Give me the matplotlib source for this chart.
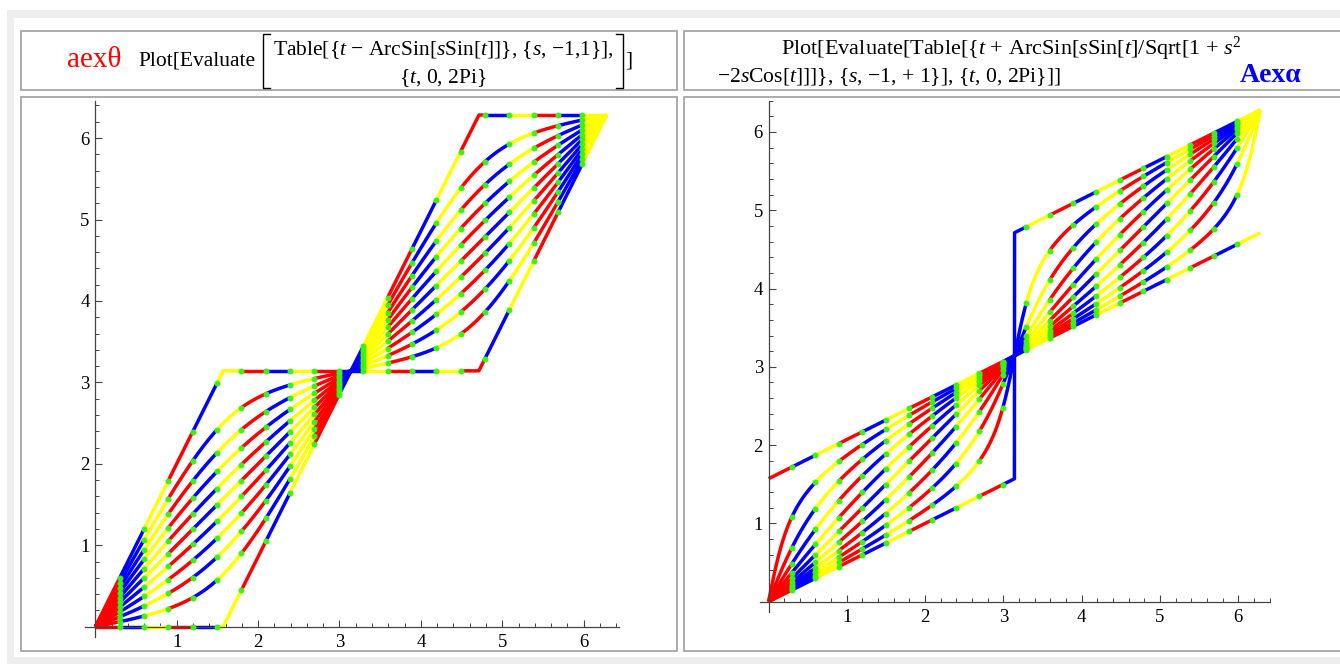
import numpy as np
import matplotlib
matplotlib.use('Agg')
import matplotlib.pyplot as plt
from matplotlib.patches import Rectangle
from matplotlib.lines import Line2D

plt.rcParams['font.family'] = ['Liberation Serif', 'DejaVu Serif']
plt.rcParams['mathtext.fontset'] = 'custom'
plt.rcParams['mathtext.rm'] = 'Liberation Serif'
plt.rcParams['mathtext.it'] = 'Liberation Serif:italic'
plt.rcParams['mathtext.bf'] = 'Liberation Serif:bold'

# ---------------- data (as stated in the chart's own Plot commands) ----------------
s_values = [-1.0, -0.8, -0.6, -0.4, -0.2, 0.0, 0.2, 0.4, 0.6, 0.8, 1.0]
t_range = [0.0, 2 * np.pi]
mesh_count = 20
segment_colors = ['#ff0000', '#0000ff', '#ffff00']
mesh_color = '#3cf214'
major_ticks = [1, 2, 3, 4, 5, 6]
tick_labels = ['1', '2', '3', '4', '5', '6']
minor_ticks = [0.2, 0.4, 0.6, 0.8, 1.2, 1.4, 1.6, 1.8, 2.2, 2.4, 2.6, 2.8,
               3.2, 3.4, 3.6, 3.8, 4.2, 4.4, 4.6, 4.8, 5.2, 5.4, 5.6, 5.8,
               6.2, 6.4]


def f_left(t, s):
    return t - np.arcsin(np.clip(s * np.sin(t), -1, 1))


def f_right(t, s):
    with np.errstate(divide='ignore', invalid='ignore'):
        r = s * np.sin(t) / np.sqrt(1 + s ** 2 - 2 * s * np.cos(t))
    return t + np.arcsin(np.clip(r, -1, 1))


W, H = 1340, 664
fig = plt.figure(figsize=(W / 100, H / 100), dpi=100)
fig.patch.set_facecolor('white')


def fx(px):
    return px / W


def fy(py):
    return 1 - py / H


def box(x0, y0, x1, y1, fc, ec=None, lw=0, z=0):
    r = Rectangle((fx(x0), fy(y1)), (x1 - x0) / W, (y1 - y0) / H,
                  transform=fig.transFigure, facecolor=fc,
                  edgecolor=ec if ec else fc, linewidth=lw, zorder=z)
    fig.add_artist(r)


def fline(xs, ys, color='black', lw=1.0):
    fig.add_artist(Line2D([fx(x) for x in xs], [fy(y) for y in ys],
                          transform=fig.transFigure, color=color, lw=lw))


# background frame
box(7, 10, 1341, 665, '#eeeeee')
box(14, 18, 1341, 657, 'white')
border = '#a6a6a6'
box(21, 31, 677, 90, 'white', border, 1.3)
box(21, 97, 677, 651, 'white', border, 1.3)
box(684, 31, 1341, 90, 'white', border, 1.3)
box(684, 97, 1341, 651, 'white', border, 1.3)

# ---------------- headers ----------------
fs = 16
fig.text(fx(67), fy(60), 'aexθ', color='#ff0000', fontsize=21,
         ha='left', va='center')
fig.text(fx(138), fy(61), 'Plot[Evaluate', fontsize=15.5, ha='left', va='center')
fline([270, 263, 263, 270], [34, 34, 88, 88], lw=1.0)
fig.text(fx(443), fy(50), 'Table[{$t$ − ArcSin[$s$Sin[$t$]]}, {$s$, −1,1}],',
         fontsize=15.5, ha='center', va='center')
fig.text(fx(443), fy(78), '{$t$, 0, 2Pi}', fontsize=15.5, ha='center', va='center')
fline([616, 623, 623, 616], [34, 34, 88, 88], lw=1.0)
fig.text(fx(625), fy(61), ']', fontsize=15.5, ha='left', va='center')

fig.text(fx(1011), fy(49), 'Plot[Evaluate[Table[{$t$ + ArcSin[$s$Sin[$t$]/Sqrt[1 + $s^2$',
         fontsize=fs, ha='center', va='center')
fig.text(fx(717), fy(77), '−2$s$Cos[$t$]]]}, {$s$, −1, + 1}], {$t$, 0, 2Pi}]]',
         fontsize=15.6, ha='left', va='center')
fig.text(fx(1240), fy(76), 'Aexα', color='#0000ff', fontsize=20,
         fontweight='bold', ha='left', va='center')


# ---------------- plots ----------------
def make_axes(x0, x1, y0, y1, xlim, ylim):
    ax = fig.add_axes([fx(x0), fy(y1), (x1 - x0) / W, (y1 - y0) / H])
    ax.set_facecolor('none')
    ax.set_xlim(*xlim)
    ax.set_ylim(*ylim)
    for side in ['top', 'right']:
        ax.spines[side].set_visible(False)
    ax.spines['left'].set_position(('data', 0))
    ax.spines['bottom'].set_position(('data', 0))
    for side in ['left', 'bottom']:
        ax.spines[side].set_color('#444444')
        ax.spines[side].set_linewidth(0.9)
    ax.set_xticks(major_ticks)
    ax.set_xticklabels(tick_labels)
    ax.set_yticks(major_ticks)
    ax.set_yticklabels(tick_labels)
    ax.set_xticks(minor_ticks, minor=True)
    ax.set_yticks(minor_ticks, minor=True)
    ax.tick_params(which='major', direction='in', length=5, width=0.8,
                   color='#444444', labelsize=13.5, labelcolor='black')
    ax.tick_params(axis='x', which='major', pad=5)
    ax.tick_params(axis='y', which='major', pad=4)
    ax.tick_params(which='minor', direction='in', length=2.8, width=0.7,
                   color='#444444')
    return ax


def draw_family(ax, func):
    t0, t1 = t_range
    bounds = t0 + (t1 - t0) * np.arange(mesh_count + 2) / (mesh_count + 1)
    for s in s_values:
        for k in range(mesh_count + 1):
            tt = np.linspace(bounds[k], bounds[k + 1], 160)
            yy = func(tt, s)
            ok = np.isfinite(yy)
            ax.plot(tt[ok], yy[ok], color=segment_colors[k % 3], lw=2.5,
                    solid_capstyle='butt', solid_joinstyle='round',
                    zorder=2, clip_on=False)
    mt = bounds[1:-1]
    for s in s_values:
        ax.plot(mt, func(mt, s), 'o', color=mesh_color, ms=4.3, mew=0,
                zorder=3, clip_on=False)


axL = make_axes(84.7, 619.5, 100.6, 637.3, (-0.13, 6.44), (-0.13, 6.46))
draw_family(axL, f_left)
axR = make_axes(759.9, 1270.4, 100.6, 611.9, (-0.11, 6.41), (-0.13, 6.40))
draw_family(axR, f_right)

fig.savefig('out.png', dpi=100)
